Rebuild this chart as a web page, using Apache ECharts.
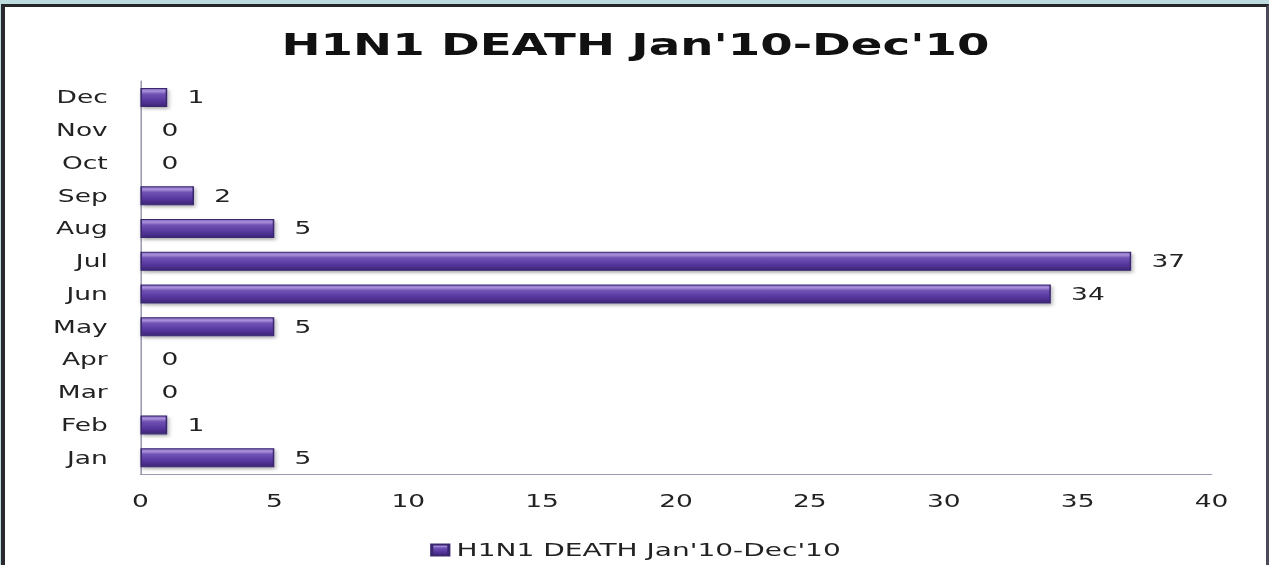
<!DOCTYPE html>
<html>
<head>
<meta charset="utf-8">
<script src="https://cdn.jsdelivr.net/npm/echarts@6/dist/echarts.min.js"></script>
<style>
  html, body { margin: 0; padding: 0; background: #bcdcdf; overflow: hidden; }
  #frame {
    position: absolute; left: 1px; top: 4px; width: 1261px; height: 561px; overflow: hidden;
    border-left: 4px solid #2a2a2e; border-top: 3px solid #262628; border-right: 3px solid #4a4a5a;
    background: #fff; box-shadow: inset 3px 0 0 #7a7890;
  }
  /* the original picture is stretched sideways, so draw narrow and widen it */
  #main { width: 810px; height: 561px; transform: scaleX(1.5568); transform-origin: 0 0; }
</style>
</head>
<body>
<div id="frame"><div id="main"></div></div>
<script>
var title = "H1N1 DEATH Jan'10-Dec'10";
var months = ['Jan', 'Feb', 'Mar', 'Apr', 'May', 'Jun', 'Jul', 'Aug', 'Sep', 'Oct', 'Nov', 'Dec'];
var deaths = [5, 1, 0, 0, 5, 34, 37, 5, 2, 0, 0, 1];
var xTicks = [0, 5, 10, 15, 20, 25, 30, 35, 40];

var chart = echarts.init(document.getElementById('main'), null, { renderer: 'svg' });
var barColor = new echarts.graphic.LinearGradient(0, 0, 0, 1, [
  { offset: 0, color: '#7a62b8' },
  { offset: 0.15, color: '#ab92da' },
  { offset: 0.32, color: '#7052b4' },
  { offset: 0.7, color: '#55359c' },
  { offset: 1, color: '#3d2677' }
]);

// zero months get no visible bar, only their label
var barData = deaths.map(function (v) {
  if (v !== 0) return v;
  return { value: v, itemStyle: { borderColor: 'transparent', shadowColor: 'transparent' } };
});

var option = {
  backgroundColor: '#fff',
  animation: false,
  textStyle: { fontFamily: 'DejaVu Sans' },
  title: {
    text: title,
    left: 'center',
    top: 18,
    textStyle: { fontSize: 30, fontWeight: 'bold', color: '#111', fontFamily: 'DejaVu Sans' }
  },
  legend: {
    bottom: 4,
    left: 'center',
    itemWidth: 11,
    itemHeight: 11,
    itemGap: 6,
    icon: 'rect',
    textStyle: { fontSize: 18, color: '#222' },
    data: [title]
  },
  grid: { left: 87, right: 35, top: 74, bottom: 94, containLabel: false },
  xAxis: {
    type: 'value',
    min: 0,
    max: 40,
    interval: 5,
    axisLine: { show: true, lineStyle: { color: '#9a9ab0', width: 1 } },
    axisTick: { show: false },
    splitLine: { show: false },
    axisLabel: {
      fontSize: 17, color: '#222', margin: 18,
      formatter: function (v) { return xTicks.indexOf(v) >= 0 ? String(v) : ''; }
    }
  },
  yAxis: {
    type: 'category',
    data: months,
    axisLine: { show: true, lineStyle: { color: '#9a9ab0', width: 1 } },
    axisTick: { show: false },
    axisLabel: { fontSize: 17, color: '#222', margin: 21 }
  },
  series: [{
    name: title,
    type: 'bar',
    data: barData,
    barWidth: 19,
    itemStyle: {
      color: barColor,
      borderColor: '#3a2870',
      borderWidth: 1,
      shadowColor: 'rgba(0,0,0,0.3)',
      shadowBlur: 3,
      shadowOffsetX: 1,
      shadowOffsetY: 2
    },
    label: {
      show: true,
      position: 'right',
      distance: 13,
      fontSize: 17,
      color: '#222'
    }
  }]
};
chart.setOption(option);
</script>
</body>
</html>
